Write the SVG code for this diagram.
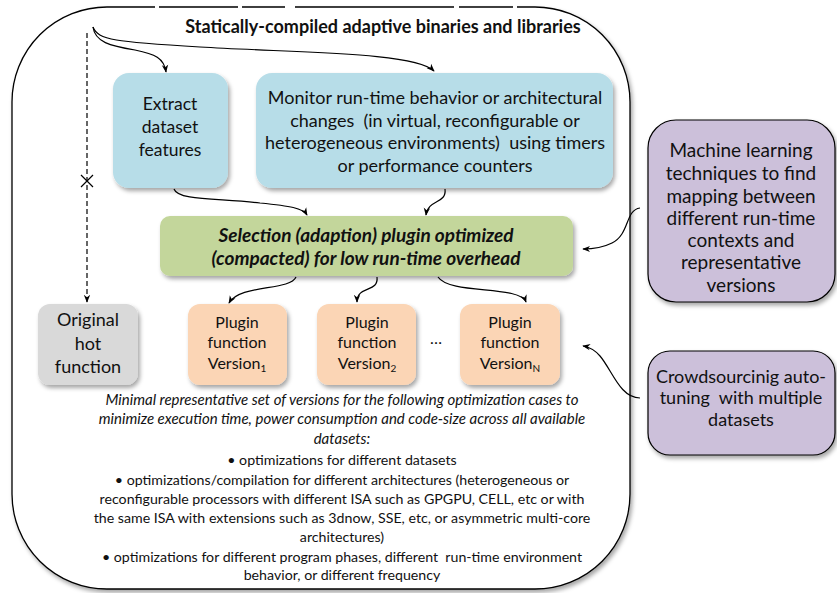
<svg xmlns="http://www.w3.org/2000/svg" width="837" height="593" viewBox="0 0 837 593">
<style>
text{font-family:Lato,"Open Sans","Liberation Sans",sans-serif;fill:#111;text-anchor:middle;white-space:pre}
.box{stroke:none;filter:url(#sh)}
.t17{font-size:17.5px}
.t18{font-size:18px}
.t19{font-size:19px}
.t16{font-size:16px}
.it{font-size:15px;font-style:italic}
.nm{font-size:14.2px}
.conn{fill:none;stroke:#000;stroke-width:1.2}
</style>
<defs>
<filter id="sh" x="-10%" y="-10%" width="130%" height="130%">
<feDropShadow dx="2" dy="3" stdDeviation="2" flood-color="#000" flood-opacity="0.35"/>
</filter>
<marker id="ah" viewBox="0 0 10 10" refX="9" refY="5" markerWidth="8" markerHeight="8" orient="auto-start-reverse" markerUnits="userSpaceOnUse">
<path d="M0,1 L10,5 L0,9 L3,5 Z" fill="#000"/>
</marker>
</defs>
<rect width="837" height="593" fill="#fff"/>
<g id="frame">
<rect x="12" y="7" width="618" height="582" rx="95" ry="95" fill="#fff" stroke="#000" stroke-width="1.3" filter="url(#sh)"/>
<g fill="#fff">
<rect x="155" y="4" width="4" height="6"/>
<rect x="238" y="4" width="4" height="6"/>
<rect x="285" y="4" width="10" height="6"/>
<rect x="454" y="4" width="5" height="6"/>
<rect x="513" y="4" width="4" height="6"/>
</g>
<text x="383" y="33" style="font-size:18px;font-weight:bold">Statically-compiled adaptive binaries and libraries</text>
</g>
<g id="extract">
<rect class="box" x="113" y="73" width="115" height="115" rx="16" fill="#b7dde8"/>
<text class="t17" x="170" y="110">Extract</text>
<text class="t17" x="170" y="133">dataset</text>
<text class="t17" x="170" y="156">features</text>
</g>
<g id="monitor">
<rect class="box" x="256" y="73" width="357" height="115" rx="16" fill="#b7dde8"/>
<text class="t18" x="435" y="104">Monitor run-time behavior or architectural</text>
<text class="t18" x="435" y="127">changes  (in virtual, reconfigurable or</text>
<text class="t18" x="435" y="149">heterogeneous environments)  using timers</text>
<text class="t18" x="435" y="172">or performance counters</text>
</g>
<g id="selection">
<rect class="box" x="160" y="216" width="413" height="60" rx="10" fill="#c3d69b"/>
<text x="366" y="242" style="font-size:19px;font-weight:bold;font-style:italic">Selection (adaption) plugin optimized</text>
<text x="366" y="265" style="font-size:19px;font-weight:bold;font-style:italic">(compacted) for low run-time overhead</text>
</g>
<g id="original">
<rect class="box" x="38" y="304" width="100" height="81" rx="12" fill="#d9d9d9"/>
<text x="88" y="326" style="font-size:18px">Original</text>
<text x="88" y="350" style="font-size:18px">hot</text>
<text x="88" y="373" style="font-size:18px">function</text>
</g>
<g id="v1">
<rect class="box" x="188" y="304" width="99" height="81" rx="12" fill="#fbd5b5"/>
<text class="t16" x="237" y="328">Plugin</text>
<text class="t16" x="237" y="348">function</text>
<text class="t16" x="237" y="369">Version<tspan font-size="10" dy="3">1</tspan></text>
</g>
<g id="v2">
<rect class="box" x="317" y="304" width="99" height="81" rx="12" fill="#fbd5b5"/>
<text class="t16" x="367" y="328">Plugin</text>
<text class="t16" x="367" y="348">function</text>
<text class="t16" x="367" y="369">Version<tspan font-size="10" dy="3">2</tspan></text>
</g>
<g id="dots"><text class="t16" x="436" y="344">…</text></g>
<g id="vn">
<rect class="box" x="460" y="304" width="100" height="81" rx="12" fill="#fbd5b5"/>
<text class="t16" x="510" y="328">Plugin</text>
<text class="t16" x="510" y="348">function</text>
<text class="t16" x="510" y="369">Version<tspan font-size="10" dy="3">N</tspan></text>
</g>
<g id="ml">
<rect x="648" y="120" width="187" height="182" rx="28" fill="#ccc0da" stroke="#000" stroke-width="1.2" filter="url(#sh)"/>
<text class="t19" x="741" y="157">Machine learning</text>
<text class="t19" x="741" y="180">techniques to find</text>
<text class="t19" x="741" y="203">mapping between</text>
<text class="t19" x="741" y="225">different run-time</text>
<text class="t19" x="741" y="247">contexts and</text>
<text class="t19" x="741" y="269">representative</text>
<text class="t19" x="741" y="292">versions</text>
</g>
<g id="crowd">
<rect x="648" y="351" width="187" height="104" rx="22" fill="#ccc0da" stroke="#000" stroke-width="1.2" filter="url(#sh)"/>
<text class="t18" x="741" y="383">Crowdsourcinig auto-</text>
<text class="t18" x="741" y="404">tuning  with multiple</text>
<text class="t18" x="741" y="426">datasets</text>
</g>
<g id="desc">
<text class="it" x="342" y="405">Minimal representative set of versions for the following optimization cases to</text>
<text class="it" x="342" y="424">minimize execution time, power consumption and code-size across all available</text>
<text class="it" x="342" y="444">datasets:</text>
<text class="nm" x="342" y="465">• optimizations for different datasets</text>
<text class="nm" x="342" y="485">• optimizations/compilation for different architectures (heterogeneous or</text>
<text class="nm" x="342" y="504">reconfigurable processors with different ISA such as GPGPU, CELL, etc or with</text>
<text class="nm" x="342" y="523">the same ISA with extensions such as 3dnow, SSE, etc, or asymmetric multi-core</text>
<text class="nm" x="342" y="542">architectures)</text>
<text class="nm" x="342" y="562">• optimizations for different program phases, different  run-time environment</text>
<text class="nm" x="342" y="580">behavior, or different frequency</text>
</g>
<g id="connectors">
<path class="conn" d="M93,27 C95,42 110,46 135,50 C155,54 164,58 166,72" marker-end="url(#ah)"/>
<path class="conn" d="M93,27 C98,40 115,42 200,47 C300,53 415,52 434,71" marker-end="url(#ah)"/>
<path class="conn" d="M87,33 L87,302" stroke-dasharray="5,3" marker-end="url(#ah)"/>
<path class="conn" d="M81,175 L93,187 M93,175 L81,187" stroke-width="1"/>
<path class="conn" d="M174,189 C178,201 220,198 260,203 C290,206 303,208 307,215" marker-end="url(#ah)"/>
<path class="conn" d="M445,189 C447,204 428,199 426,215" marker-end="url(#ah)"/>
<path class="conn" d="M296,277 C290,291 240,284 229,303" marker-end="url(#ah)"/>
<path class="conn" d="M377,277 C379,293 357,285 357,302" marker-end="url(#ah)"/>
<path class="conn" d="M438,277 C450,295 520,285 526,302" marker-end="url(#ah)"/>
<path class="conn" d="M640,208 C625,210 630,234 612,243 C602,248 592,249 583,249" marker-end="url(#ah)"/>
<path class="conn" d="M640,398 C620,398 612,370 600,356 C594,349 589,347 583,346" marker-end="url(#ah)"/>
</g>
</svg>
